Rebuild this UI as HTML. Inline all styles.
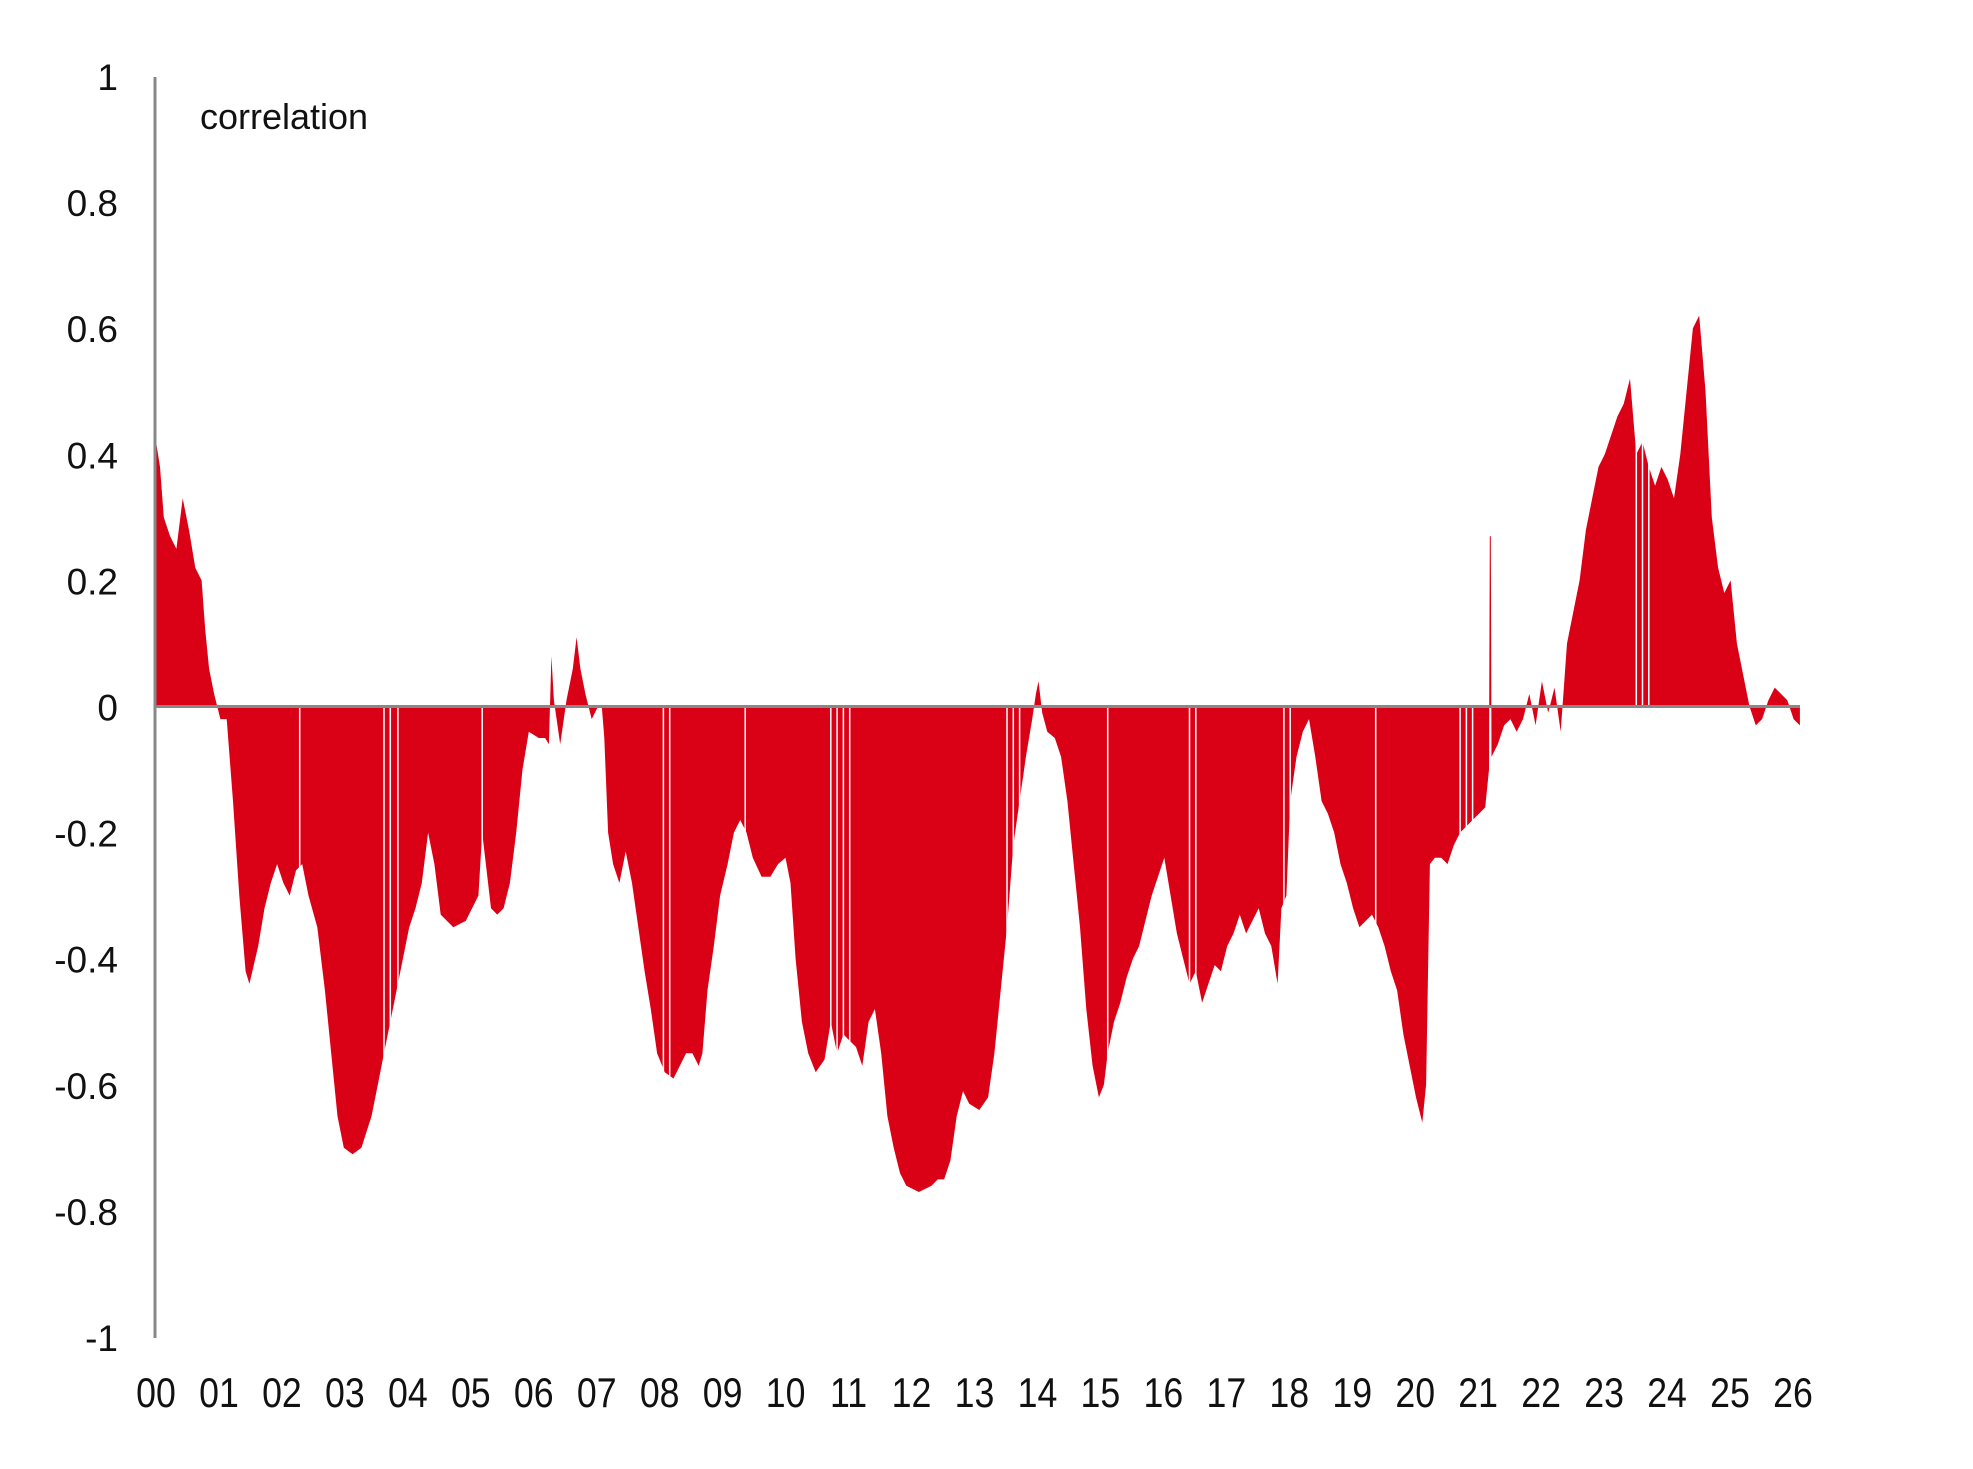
<!DOCTYPE html>
<html><head><meta charset="utf-8"><style>
html,body{margin:0;padding:0;background:#fff;}
svg{display:block;}
text{font-family:"Liberation Sans",sans-serif;fill:#111;}
</style></head><body>
<svg id="s" width="1973" height="1469" viewBox="0 0 1973 1469" xmlns="http://www.w3.org/2000/svg">
<path id="area" fill="#da0016" d=""/>
<g id="gaps" stroke="#fff" stroke-width="1.5"></g>
<line x1="155" y1="706.5" x2="1800" y2="706.5" stroke="#888" stroke-width="3"/>
<line x1="155" y1="77" x2="155" y2="1338" stroke="#888" stroke-width="3"/>
<g id="ylab"></g>
<g id="xlab"></g>
<text transform="translate(200,129)" font-size="36">correlation</text>
</svg>
<script>
var pts=[[123,0.43],[127,0.38],[130,0.30],[135,0.27],[140,0.25],[145,0.33],[150,0.28],[155,0.22],[160,0.20],[163,0.12],[166,0.06],[170,0.02],[175,-0.02],[180,-0.02],[185,-0.15],[190,-0.30],[195,-0.42],[198,-0.44],[205,-0.38],[210,-0.32],[215,-0.28],[220,-0.25],[225,-0.28],[230,-0.30],[235,-0.26],[240,-0.25],[245,-0.30],[252,-0.35],[258,-0.45],[263,-0.55],[268,-0.65],[273,-0.70],[280,-0.71],[287,-0.70],[295,-0.65],[300,-0.60],[305,-0.55],[310,-0.50],[315,-0.45],[320,-0.40],[325,-0.35],[330,-0.32],[335,-0.28],[340,-0.20],[345,-0.25],[350,-0.33],[360,-0.35],[370,-0.34],[380,-0.30],[383,-0.20],[390,-0.32],[395,-0.33],[400,-0.32],[405,-0.28],[410,-0.20],[415,-0.10],[420,-0.04],[428,-0.05],[433,-0.05],[436,-0.06],[438,0.08],[440,0.01],[445,-0.06],[450,0.01],[455,0.06],[458,0.11],[461,0.06],[465,0.02],[470,-0.02],[475,0.0],[478,0.0],[480,-0.05],[483,-0.20],[487,-0.25],[492,-0.28],[497,-0.23],[502,-0.28],[507,-0.35],[512,-0.42],[517,-0.48],[522,-0.55],[528,-0.58],[535,-0.59],[540,-0.57],[545,-0.55],[550,-0.55],[555,-0.57],[558,-0.55],[562,-0.45],[567,-0.38],[572,-0.30],[578,-0.25],[583,-0.20],[588,-0.18],[593,-0.20],[598,-0.24],[605,-0.27],[612,-0.27],[618,-0.25],[624,-0.24],[628,-0.28],[632,-0.40],[637,-0.50],[642,-0.55],[648,-0.58],[655,-0.56],[660,-0.50],[665,-0.55],[670,-0.52],[675,-0.53],[680,-0.54],[685,-0.57],[690,-0.50],[695,-0.48],[700,-0.55],[705,-0.65],[710,-0.70],[715,-0.74],[720,-0.76],[730,-0.77],[740,-0.76],[745,-0.75],[750,-0.75],[755,-0.72],[760,-0.65],[765,-0.61],[770,-0.63],[778,-0.64],[785,-0.62],[790,-0.55],[795,-0.45],[800,-0.35],[805,-0.22],[810,-0.15],[815,-0.08],[820,-0.02],[823,0.02],[825,0.04],[828,-0.01],[832,-0.04],[838,-0.05],[843,-0.08],[848,-0.15],[853,-0.25],[858,-0.35],[863,-0.48],[868,-0.57],[873,-0.62],[877,-0.60],[880,-0.55],[885,-0.50],[890,-0.47],[895,-0.43],[900,-0.40],[905,-0.38],[910,-0.34],[915,-0.30],[920,-0.27],[925,-0.24],[930,-0.30],[935,-0.36],[940,-0.40],[945,-0.44],[950,-0.42],[955,-0.47],[960,-0.44],[965,-0.41],[970,-0.42],[975,-0.38],[980,-0.36],[985,-0.33],[990,-0.36],[995,-0.34],[1000,-0.32],[1005,-0.36],[1010,-0.38],[1015,-0.44],[1018,-0.32],[1022,-0.30],[1025,-0.15],[1030,-0.08],[1035,-0.04],[1040,-0.02],[1045,-0.08],[1050,-0.15],[1055,-0.17],[1060,-0.20],[1065,-0.25],[1070,-0.28],[1075,-0.32],[1080,-0.35],[1085,-0.34],[1090,-0.33],[1095,-0.35],[1100,-0.38],[1105,-0.42],[1110,-0.45],[1115,-0.52],[1120,-0.57],[1125,-0.62],[1130,-0.66],[1133,-0.60],[1136,-0.25],[1140,-0.24],[1145,-0.24],[1150,-0.25],[1155,-0.22],[1160,-0.20],[1165,-0.19],[1170,-0.18],[1175,-0.17],[1180,-0.16],[1183,-0.10],[1183.6,0.27],[1184.4,0.27],[1185,-0.08],[1190,-0.06],[1195,-0.03],[1200,-0.02],[1205,-0.04],[1210,-0.02],[1215,0.02],[1220,-0.03],[1225,0.04],[1230,-0.01],[1235,0.03],[1240,-0.04],[1245,0.10],[1250,0.15],[1255,0.20],[1260,0.28],[1265,0.33],[1270,0.38],[1275,0.40],[1280,0.43],[1285,0.46],[1290,0.48],[1295,0.52],[1300,0.40],[1305,0.42],[1310,0.38],[1315,0.35],[1320,0.38],[1325,0.36],[1330,0.33],[1335,0.40],[1340,0.50],[1345,0.60],[1350,0.62],[1355,0.50],[1360,0.30],[1365,0.22],[1370,0.18],[1375,0.20],[1380,0.10],[1385,0.05],[1390,0.00],[1395,-0.03],[1400,-0.02],[1405,0.01],[1410,0.03],[1415,0.02],[1420,0.01],[1425,-0.02],[1430,-0.03]];
function X(d){return 155+(d-123)*1.2585;}
function Y(v){return 706.5-v*630.5;}
var d="M"+X(123)+","+Y(0);
pts.forEach(function(p){d+=" L"+X(p[0]).toFixed(1)+","+Y(p[1]).toFixed(1);});
d+=" L"+X(1430).toFixed(1)+","+Y(0)+" Z";
document.getElementById("area").setAttribute("d",d);
var ns="http://www.w3.org/2000/svg";
var g=document.getElementById("gaps");
[238,305,310,316,383,527,532,592,660,665,670,675,800,805,810,880,945,950,1020,1025,1093,1160,1165,1170,1300,1305,1310].forEach(function(dx){
 var l=document.createElementNS(ns,"line");var x=X(dx).toFixed(1);
 l.setAttribute("x1",x);l.setAttribute("x2",x);l.setAttribute("y1",Y(0.7));l.setAttribute("y2",Y(-0.8));g.appendChild(l);});
var yl=document.getElementById("ylab");
["1","0.8","0.6","0.4","0.2","0","-0.2","-0.4","-0.6","-0.8","-1"].forEach(function(t,i){
 var v=1-i*0.2;var e=document.createElementNS(ns,"text");
 e.setAttribute("transform","translate(118,"+(Y(v)+14)+")");
 e.setAttribute("font-size","37");e.setAttribute("text-anchor","end");e.textContent=t;yl.appendChild(e);});
var xl=document.getElementById("xlab");
for(var i=0;i<=26;i++){var e=document.createElementNS(ns,"text");
 e.setAttribute("transform","translate("+(156+i*62.96)+",1407) scale(0.85,1)");
 e.setAttribute("font-size","42");e.setAttribute("text-anchor","middle");
 e.textContent=(i<10?"0":"")+i;xl.appendChild(e);}
</script>
</body></html>
